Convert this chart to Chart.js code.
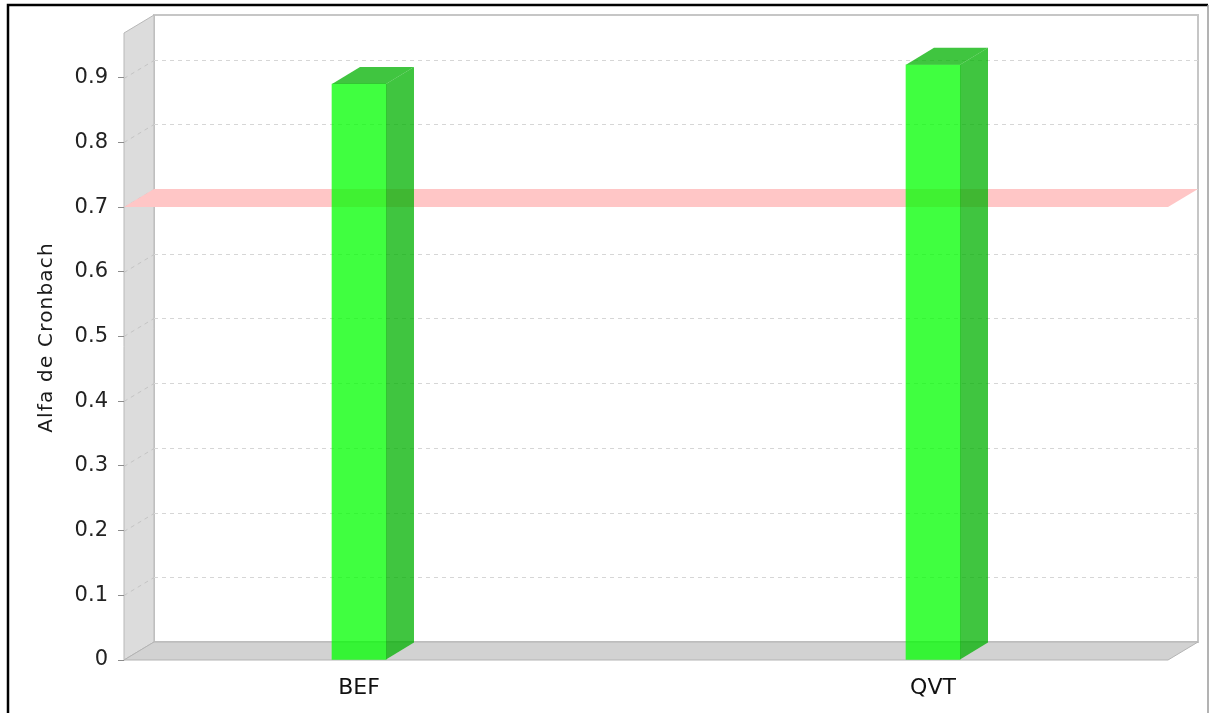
<!DOCTYPE html>
<html>
<head>
<meta charset="utf-8">
<script src="https://cdn.jsdelivr.net/npm/chart.js@4"></script>
<style>
    html, body { margin: 0; padding: 0; background: #ffffff; }
    canvas { display: block; }
</style>
</head>
<body>
<canvas id="alphaChart" width="1213" height="713"></canvas>
<script>
const categories = ['BEF', 'QVT'];
const alphaValues = [0.89, 0.92];
const threshold = 0.7;
const yTicks = [0, 0.1, 0.2, 0.3, 0.4, 0.5, 0.6, 0.7, 0.8, 0.9];
const axisTitle = 'Alfa de Cronbach';

// 3D offsets of the back wall and of the bar depth
const DEPTH_X = 30;
const DEPTH_Y = 18;
const BAR_DX = 28;
const BAR_DY = 17;

function polygon(ctx, pts, fill, stroke) {
    ctx.beginPath();
    ctx.moveTo(pts[0][0], pts[0][1]);
    for (let i = 1; i < pts.length; i++) {
        ctx.lineTo(pts[i][0], pts[i][1]);
    }
    ctx.closePath();
    if (fill) {
        ctx.fillStyle = fill;
        ctx.fill();
    }
    if (stroke) {
        ctx.strokeStyle = stroke;
        ctx.lineWidth = 1;
        ctx.stroke();
    }
}

// frame, walls, floor and back-wall grid
const wallsPlugin = {
    id: 'walls',
    beforeDraw(chart) {
        const ctx = chart.ctx;
        const { left, right, top, bottom } = chart.chartArea;
        const yScale = chart.scales.y;
        ctx.save();
        ctx.fillStyle = '#ffffff';
        ctx.fillRect(0, 0, chart.width, chart.height);

        // outer border
        ctx.strokeStyle = '#000000';
        ctx.lineWidth = 2.5;
        ctx.beginPath();
        ctx.moveTo(8, chart.height);
        ctx.lineTo(8, 5);
        ctx.lineTo(1208, 5);
        ctx.stroke();
        ctx.strokeStyle = '#9a9a9a';
        ctx.lineWidth = 1.5;
        ctx.beginPath();
        ctx.moveTo(1208, 5);
        ctx.lineTo(1208, chart.height);
        ctx.stroke();

        // back wall
        ctx.fillStyle = '#ffffff';
        ctx.fillRect(left + DEPTH_X, top - DEPTH_Y, right - left, bottom - top);
        ctx.strokeStyle = '#c6c6c6';
        ctx.lineWidth = 2;
        ctx.strokeRect(left + DEPTH_X, top - DEPTH_Y, right - left, bottom - top);

        // left wall
        polygon(ctx, [[left, top], [left + DEPTH_X, top - DEPTH_Y],
            [left + DEPTH_X, bottom - DEPTH_Y], [left, bottom]], '#dcdcdc', '#b8b8b8');

        // floor
        polygon(ctx, [[left, bottom], [left + DEPTH_X, bottom - DEPTH_Y],
            [right + DEPTH_X, bottom - DEPTH_Y], [right, bottom]], '#d2d2d2', '#b4b4b4');

        // dashed grid lines on the back wall and across the left wall
        ctx.setLineDash([4, 4]);
        ctx.lineWidth = 1;
        yTicks.forEach(function (v) {
            if (v === 0) return;
            const y = Math.round(yScale.getPixelForValue(v)) + 0.5;
            ctx.strokeStyle = '#d6d6d6';
            ctx.beginPath();
            ctx.moveTo(left + DEPTH_X, y - DEPTH_Y);
            ctx.lineTo(right + DEPTH_X, y - DEPTH_Y);
            ctx.stroke();
            ctx.strokeStyle = '#c4c4c4';
            ctx.beginPath();
            ctx.moveTo(left, y);
            ctx.lineTo(left + DEPTH_X, y - DEPTH_Y);
            ctx.stroke();
        });
        ctx.restore();
    },
    beforeDatasetsDraw(chart) {
        // threshold plane
        const ctx = chart.ctx;
        const { left, right } = chart.chartArea;
        const y = chart.scales.y.getPixelForValue(threshold);
        ctx.save();
        polygon(ctx, [[left, y], [left + DEPTH_X, y - DEPTH_Y],
            [right + DEPTH_X, y - DEPTH_Y], [right, y]], '#ffc6c6', null);
        ctx.restore();
    },
    afterDatasetsDraw(chart) {
        // side and top faces of each bar
        const ctx = chart.ctx;
        const meta = chart.getDatasetMeta(0);
        ctx.save();
        meta.data.forEach(function (bar) {
            const p = bar.getProps(['x', 'y', 'base', 'width'], true);
            const x0 = p.x - p.width / 2;
            const x1 = p.x + p.width / 2;
            const shade = 'rgba(0, 178, 0, 0.75)';
            polygon(ctx, [[x1, p.y], [x1 + BAR_DX, p.y - BAR_DY],
                [x1 + BAR_DX, p.base - BAR_DY], [x1, p.base]], shade, null);
            polygon(ctx, [[x0, p.y], [x0 + BAR_DX, p.y - BAR_DY],
                [x1 + BAR_DX, p.y - BAR_DY], [x1, p.y]], shade, null);
        });
        ctx.restore();
    },
    afterDraw(chart) {
        // axis title, centred on the full 3D plot height
        const ctx = chart.ctx;
        const { top, bottom } = chart.chartArea;
        ctx.save();
        ctx.translate(47, (top - DEPTH_Y + bottom) / 2);
        ctx.rotate(-Math.PI / 2);
        ctx.font = '20px "DejaVu Sans"';
        ctx.letterSpacing = '1.2px';
        ctx.fillStyle = '#1a1a1a';
        ctx.textAlign = 'center';
        ctx.textBaseline = 'middle';
        ctx.fillText(axisTitle, 0, 0);
        ctx.restore();
    }
};

const points = categories.map(function (c, i) {
    return { x: i, y: alphaValues[i] };
});

const ctx = document.getElementById('alphaChart');
const alphaChart = new Chart(ctx, {
    type: 'bar',
    data: {
        datasets: [{
            label: axisTitle,
            data: points,
            backgroundColor: 'rgba(0, 255, 0, 0.75)',
            borderWidth: 0,
            barThickness: 54,
        }]
    },
    options: {
        responsive: false,
        animation: false,
        layout: {
            padding: { left: 0, top: 33, right: 45, bottom: 0 }
        },
        plugins: {
            legend: { display: false },
            tooltip: { enabled: false },
        },
        scales: {
            x: {
                type: 'linear',
                offset: false,
                min: -0.4094,
                max: 1.4094,
                afterBuildTicks: function (scale) {
                    scale.ticks = categories.map(function (c, i) {
                        return { value: i };
                    });
                },
                afterFit: function (scale) {
                    scale.height = 53;
                },
                ticks: {
                    autoSkip: false,
                    padding: 7,
                    color: '#111111',
                    font: { family: 'DejaVu Sans', size: 22 },
                    callback: function (value) {
                        return categories[value];
                    }
                },
                grid: { display: false },
                border: { display: false },
            },
            y: {
                min: 0,
                max: 0.969,
                afterBuildTicks: function (scale) {
                    scale.ticks = yTicks.map(function (v) {
                        return { value: v };
                    });
                },
                afterFit: function (scale) {
                    scale.width = 124;
                },
                ticks: {
                    padding: 10,
                    color: '#222222',
                    font: { family: 'DejaVu Sans', size: 21 },
                    callback: function (value) {
                        return String(Math.round(value * 10) / 10);
                    }
                },
                grid: {
                    drawOnChartArea: false,
                    drawTicks: true,
                    tickLength: 6,
                    color: '#8c8c8c',
                },
                border: { display: false },
            },
        },
    },
    plugins: [wallsPlugin]
});
</script>
</body>
</html>
